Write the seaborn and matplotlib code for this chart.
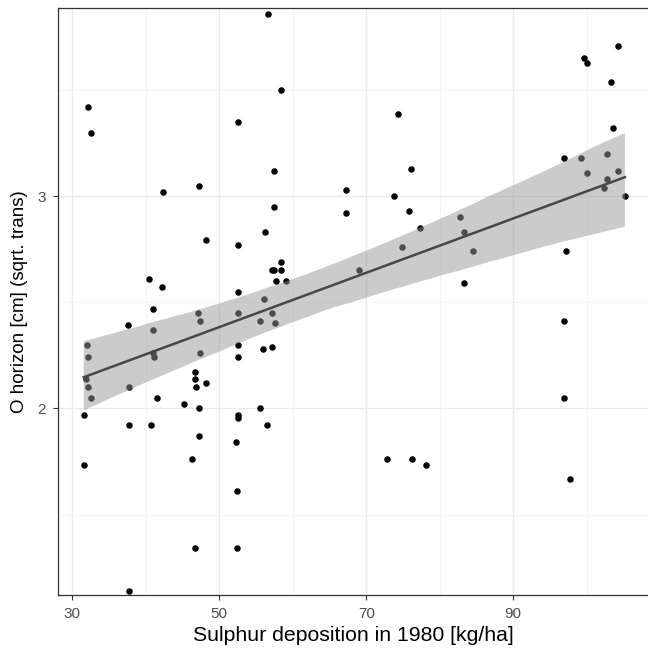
import numpy as np
import pandas as pd
import matplotlib
matplotlib.use("Agg")
import matplotlib.pyplot as plt
import seaborn as sns

# Sulphur deposition in 1980 [kg/ha]
sulphur = [32.14, 32.59, 52.5, 42.34, 47.28, 48.15, 52.5, 40.48, 42.16, 52.5,
           40.94, 47.15, 52.5, 37.58, 47.34, 40.94, 32.04, 52.5, 32.18, 40.94,
           41.08, 47.34, 52.5, 31.82, 32.18, 32.59, 37.76, 41.57, 46.65, 46.65,
           46.87, 48.15, 45.2, 47.24, 31.55, 52.5, 52.5, 37.76, 40.67, 47.24,
           52.32, 46.33, 31.55, 52.41, 46.65, 52.41, 37.76,
           56.63, 58.44, 57.49, 74.32, 76.09, 67.2, 67.2, 73.82, 75.82,
           77.27, 74.82, 57.4, 56.22, 58.36, 57.17, 57.49, 58.36, 57.76, 59.04,
           69.01, 56.13, 57.21, 55.54, 57.54, 55.91, 57.21, 55.54, 56.54, 72.78,
           76.18, 78.09,
           104.26, 99.63, 100.0, 103.26, 103.57, 96.86, 99.18, 102.76, 100.0,
           104.21, 102.76, 102.35, 105.2, 82.8, 83.3, 84.48, 97.18, 83.3,
           96.86, 96.86, 97.72]

# O horizon [cm] (sqrt. trans)
o_horizon = [3.419, 3.298, 3.349, 3.019, 3.049, 2.791, 2.769, 2.611, 2.571, 2.549,
             2.469, 2.450, 2.450, 2.391, 2.410, 2.370, 2.300, 2.300, 2.240, 2.260,
             2.240, 2.260, 2.240, 2.138, 2.100, 2.050, 2.100, 2.050, 2.171, 2.138,
             2.100, 2.121, 2.019, 2.000, 1.970, 1.970, 1.953, 1.920, 1.920, 1.870,
             1.840, 1.760, 1.731, 1.610, 1.342, 1.342, 1.141,
             3.857, 3.499, 3.118, 3.388, 3.129, 3.030, 2.920, 3.000, 2.929,
             2.849, 2.758, 2.948, 2.830, 2.689, 2.650, 2.650, 2.650, 2.600, 2.600,
             2.650, 2.513, 2.450, 2.410, 2.400, 2.279, 2.289, 2.000, 1.920, 1.760,
             1.760, 1.731,
             3.708, 3.650, 3.628, 3.538, 3.319, 3.180, 3.180, 3.199, 3.110,
             3.118, 3.080, 3.039, 3.000, 2.900, 2.829, 2.739, 2.739, 2.590,
             2.410, 2.050, 1.668]

x_major = [30, 50, 70, 90]
x_minor = [40, 60, 80, 100]
y_major = [2, 3]
y_major_labels = ["2", "3"]
y_minor = [1.5, 2.5, 3.5]

df = pd.DataFrame({"sulphur": sulphur, "ohor": o_horizon})

plt.rcParams["font.family"] = ["Liberation Sans", "DejaVu Sans"]

fig = plt.figure(figsize=(6.48, 6.52), dpi=100)
W, H = 648, 652
left, right, top, bottom = 57.7, 649.5, 8.3, 595
ax = fig.add_axes([left / W, 1 - bottom / H, (right - left) / W, (bottom - top) / H])

ax.set_axisbelow(True)
sns.scatterplot(data=df, x="sulphur", y="ohor", ax=ax, color="black",
                s=22, linewidth=0, zorder=2)
n_before = len(ax.collections)
sns.regplot(data=df, x="sulphur", y="ohor", ax=ax, scatter=False, ci=95,
            n_boot=2000, seed=7, truncate=True,
            line_kws=dict(color="#474747", linewidth=1.8, zorder=4))
for coll in ax.collections[n_before:]:
    coll.set_facecolor((0.6, 0.6, 0.6))
    coll.set_alpha(0.5)
    coll.set_zorder(3)
    coll.set_edgecolor("none")

ax.set_xlim(28.01, 108.55)
ax.set_ylim(1.121, 3.884)

ax.set_xticks(x_major)
ax.set_xticks(x_minor, minor=True)
ax.set_yticks(y_major)
ax.set_yticklabels(y_major_labels)
ax.set_yticks(y_minor, minor=True)
ax.grid(which="major", color="#ebebeb", linewidth=1.0)
ax.grid(which="minor", color="#f2f2f2", linewidth=0.6)
ax.tick_params(which="major", length=3.5, width=0.8, color="#333333",
               labelcolor="#4d4d4d", labelsize=11)
ax.tick_params(axis="x", which="major", pad=5)
ax.tick_params(axis="y", which="major", pad=5)
ax.tick_params(which="minor", length=0)

for sp in ax.spines.values():
    sp.set_color("#333333")
    sp.set_linewidth(0.9)

ax.set_xlabel("Sulphur deposition in 1980 [kg/ha]", fontsize=15.3, color="black", labelpad=4)
ax.set_ylabel("O horizon [cm] (sqrt. trans)", fontsize=13.5, color="black", labelpad=7)

fig.savefig("out.png", dpi=100)
